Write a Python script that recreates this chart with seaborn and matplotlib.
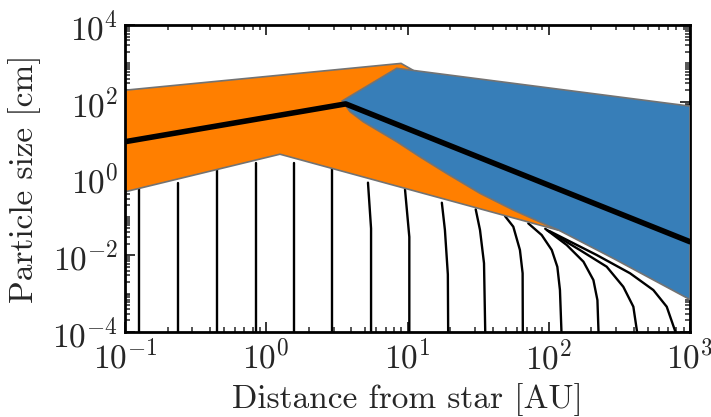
import numpy as np
import pandas as pd
import matplotlib
matplotlib.use("Agg")
import matplotlib.pyplot as plt
import matplotlib.ticker as mticker
import seaborn as sns

# ---- data -----------------------------------------------------------------
# Region where particles fragment (orange): outline in (AU, cm)
frag_au = [0.1, 9.0, 10.9, 117, 1.25, 0.1]
frag_cm = [200, 1000, 670, 0.045, 4.3, 0.45]

# Region where radial drift dominates (blue): outline in (AU, cm)
drift_au = [3.45, 8.4, 1000, 1000, 286, 117, 96.8, 56.1, 32.6, 18.9, 12.2, 8.4, 6.38, 4.86, 3.92]
drift_cm = [105, 745, 77, 7e-4, 0.0083, 0.0455, 0.0614, 0.151, 0.411, 1.36, 3.7, 9.1, 16.6, 30.2, 55.1]

# Characteristic particle size
peak_au = [0.1, 3.65, 1000]
peak_cm = [9.1, 88, 0.0225]

# Growth tracks of individual particles (distance in AU, size in cm)
track_au = [
    [0.125, 0.125],
    [0.239, 0.239],
    [0.448, 0.448],
    [0.84, 0.84],
    [1.57, 1.57],
    [2.94, 2.94],
    [5.25, 5.52, 5.52],
    [9.6, 10.3, 10.3],
    [17.5, 18.4, 19.3, 19.4],
    [30.4, 32.6, 34.8, 35.5],
    [49.0, 56.1, 62.5, 65.3, 65.5],
    [71.6, 89.1, 105, 115, 120, 123],
    [94.4, 134, 176, 207, 221, 225],
    [97.7, 166, 257, 337, 397, 422],
    [101, 218, 376, 550, 684, 789],
]
track_cm = [
    [0.52, 1e-4],
    [0.78, 1e-4],
    [1.74, 1e-4],
    [2.6, 1e-4],
    [2.6, 1e-4],
    [1.74, 1e-4],
    [0.78, 0.05, 1e-4],
    [0.52, 0.03, 1e-4],
    [0.234, 0.0455, 0.00316, 1e-4],
    [0.157, 0.0455, 0.0062, 1e-4],
    [0.105, 0.0555, 0.0137, 0.0034, 1e-4],
    [0.068, 0.0337, 0.0137, 0.005, 0.00124, 1e-4],
    [0.049, 0.0185, 0.0068, 0.00226, 0.00068, 1e-4],
    [0.0447, 0.0137, 0.00504, 0.00151, 0.000457, 1e-4],
    [0.0427, 0.0102, 0.0034, 0.00124, 0.000457, 1e-4],
]

# ---- style ----------------------------------------------------------------
sns.set_style("ticks")
plt.rcParams.update({
    "font.family": "serif",
    "font.serif": ["cmr10"],
    "mathtext.fontset": "cm",
    "axes.formatter.use_mathtext": True,
    "axes.linewidth": 2.0,
    "axes.edgecolor": "black",
})

set1 = sns.color_palette("Set1")
orange = set1[4]
blue = set1[1]

fig = plt.figure(figsize=(7.11, 4.17), dpi=100)
ax = fig.add_axes([0.1758, 0.2038, 0.7947, 0.7362])
ax.set_xscale("log")
ax.set_yscale("log")

ax.fill(frag_au, frag_cm, facecolor=orange, edgecolor="0.45", lw=1.2, zorder=2)
ax.fill(drift_au, drift_cm, facecolor=blue, edgecolor="0.45", lw=1.2, zorder=3)

tracks = pd.DataFrame({
    "r": np.concatenate([np.asarray(t, float) for t in track_au]),
    "s": np.concatenate([np.asarray(t, float) for t in track_cm]),
    "track": np.concatenate([[i] * len(t) for i, t in enumerate(track_au)]),
})
sns.lineplot(data=tracks, x="r", y="s", units="track", estimator=None,
             sort=False, color="black", lw=1.7, ax=ax, zorder=1, legend=False)

sns.lineplot(x=peak_au, y=peak_cm, sort=False, estimator=None,
             color="black", lw=4.0, ax=ax, zorder=4)

ax.set_xlim(0.1, 1000)
ax.set_ylim(1e-4, 1e4)

ax.xaxis.set_major_locator(mticker.LogLocator(base=10, numticks=20))
ax.xaxis.set_minor_locator(mticker.LogLocator(base=10, subs=np.arange(2, 10), numticks=100))
ax.yaxis.set_major_locator(mticker.FixedLocator([1e-4, 1e-2, 1, 1e2, 1e4]))
ax.yaxis.set_minor_locator(mticker.LogLocator(base=10, subs=np.arange(1, 10), numticks=100))
ax.xaxis.set_minor_formatter(mticker.NullFormatter())
ax.yaxis.set_minor_formatter(mticker.NullFormatter())

ax.tick_params(which="both", direction="in", top=True, right=True, labelsize=24)
ax.tick_params(which="major", length=7, width=1.3, pad=5)
ax.tick_params(which="minor", length=3.5, width=1.1)

ax.set_xlabel("Distance from star [AU]", fontsize=24, labelpad=6)
ax.set_ylabel("Particle size [cm]", fontsize=24, labelpad=8)

fig.savefig("out.png", dpi=100)
